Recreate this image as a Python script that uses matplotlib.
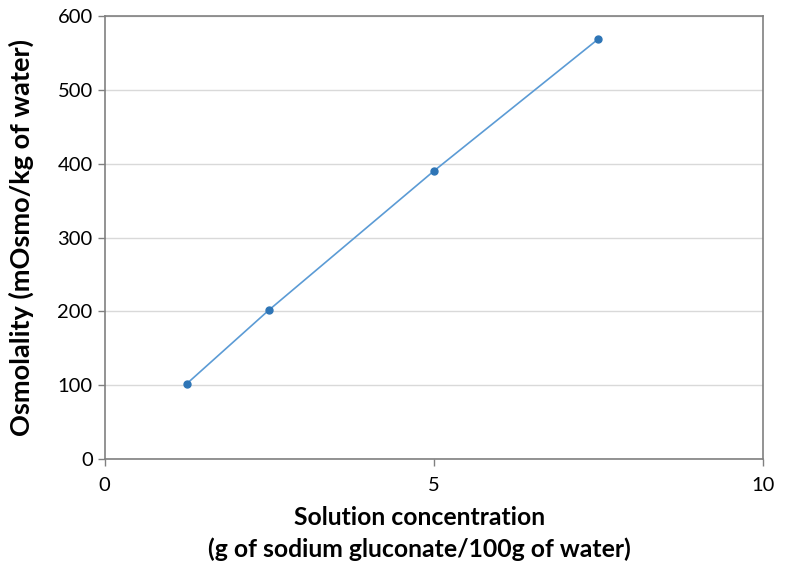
import matplotlib
matplotlib.use('Agg')
import matplotlib.pyplot as plt

# data
conc = [1.25, 2.5, 5.0, 7.5]
osmo = [102, 202, 390, 569]
x_ticks = [0, 5, 10]
y_ticks = [0, 100, 200, 300, 400, 500, 600]

plt.rcParams['font.family'] = ['Lato', 'DejaVu Sans']

fig = plt.figure(figsize=(7.99, 5.68), dpi=100)
ax = fig.add_axes([0.1308, 0.1919, 0.955 - 0.1308, 0.9718 - 0.1919])

ax.plot(conc, osmo, color='#5B9BD5', lw=1.2, zorder=3)
ax.plot(conc, osmo, 'o', color='#2E75B6', ms=5, zorder=4)

ax.set_xlim(0, 10)
ax.set_ylim(0, 600)
ax.set_xticks(x_ticks)
ax.set_yticks(y_ticks)
ax.yaxis.grid(True, color='#D9D9D9', lw=1)
ax.set_axisbelow(True)

for s in ax.spines.values():
    s.set_color('#808080')
    s.set_linewidth(1.2)

ax.tick_params(axis='both', colors='#808080', labelcolor='black', labelsize=14.5,
               length=5, width=1)
ax.tick_params(axis='x', pad=8)

ax.set_xlabel('Solution concentration\n(g of sodium gluconate/100g of water)',
              fontsize=17.8, fontweight='bold', linespacing=1.45)
ax.xaxis.set_label_coords(0.478, -0.106, transform=ax.transAxes)
ax.xaxis.label.set_va('top')
ax.set_ylabel('Osmolality (mOsmo/kg of water)', fontsize=19.5, fontweight='bold',
              labelpad=17)

fig.savefig('out.png', dpi=100)
